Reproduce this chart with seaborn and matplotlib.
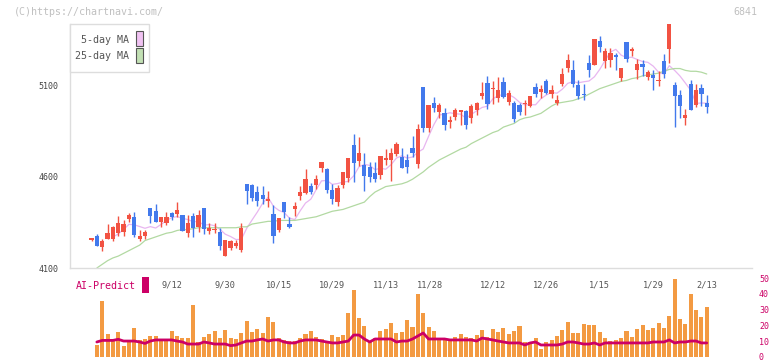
import numpy as np
import pandas as pd
import matplotlib
matplotlib.use("Agg")
import matplotlib.pyplot as plt
import seaborn as sns
from matplotlib.patches import Rectangle

# =============================
# Data
# =============================
opens = [4255, 4275, 4217, 4259, 4259, 4290, 4298, 4368, 4379, 4259,
         4277, 4428, 4411, 4351, 4344, 4401, 4395, 4390, 4290, 4384,
         4322, 4428, 4304, 4306, 4298, 4167, 4211, 4222, 4198, 4559,
         4555, 4515, 4499, 4468, 4395, 4309, 4461, 4340, 4422, 4493,
         4510, 4548, 4554, 4646, 4641, 4526, 4461, 4554, 4592, 4772,
         4685, 4663, 4652, 4619, 4608, 4690, 4690, 4723, 4707, 4690,
         4756, 4668, 5089, 4865, 5002, 4952, 4947, 4900, 4925, 4952,
         4958, 4920, 4963, 5040, 5111, 5078, 5029, 5116, 5007, 5002,
         4991, 4996, 4985, 5089, 5062, 5122, 5051, 5002, 5105, 5193,
         5182, 5100, 5051, 5220, 5209, 5340, 5231, 5237, 5260, 5138,
         5335, 5288, 5182, 5215, 5144, 5155, 5122, 5231, 5297, 5100,
         5045, 4920, 5105, 4991, 5084, 5002]
highs = [4260, 4286, 4259, 4340, 4330, 4384, 4362, 4402, 4406, 4308,
         4308, 4428, 4450, 4379, 4406, 4406, 4461, 4390, 4390, 4402,
         4417, 4428, 4346, 4344, 4319, 4255, 4255, 4253, 4348, 4559,
         4559, 4548, 4548, 4521, 4444, 4373, 4461, 4379, 4461, 4548,
         4641, 4565, 4608, 4679, 4646, 4559, 4554, 4625, 4701, 4832,
         4816, 4728, 4679, 4679, 4712, 4750, 4756, 4789, 4756, 4723,
         4821, 4887, 5089, 4991, 5034, 5002, 4974, 4931, 4974, 4963,
         4963, 4996, 5007, 5116, 5149, 5122, 5144, 5144, 5073, 5013,
         5002, 5018, 5040, 5111, 5100, 5133, 5100, 5045, 5193, 5269,
         5237, 5127, 5105, 5264, 5351, 5368, 5302, 5302, 5275, 5193,
         5335, 5308, 5242, 5237, 5182, 5182, 5177, 5269, 5433, 5116,
         5073, 4969, 5127, 5105, 5105, 5045]
lows = [4250, 4220, 4193, 4259, 4250, 4277, 4277, 4353, 4271, 4249,
        4257, 4344, 4351, 4326, 4335, 4362, 4379, 4302, 4271, 4271,
        4295, 4286, 4286, 4290, 4198, 4167, 4198, 4208, 4190, 4451,
        4468, 4439, 4450, 4435, 4235, 4298, 4375, 4320, 4386, 4472,
        4504, 4504, 4532, 4625, 4510, 4450, 4439, 4537, 4570, 4570,
        4657, 4521, 4570, 4570, 4586, 4663, 4575, 4712, 4646, 4619,
        4707, 4646, 4843, 4843, 4952, 4920, 4854, 4865, 4909, 4881,
        4860, 4892, 4936, 5023, 4969, 4996, 5007, 5029, 4991, 4898,
        4936, 4936, 4980, 5034, 5029, 5051, 5029, 4991, 5094, 5171,
        5089, 5023, 5018, 5144, 5209, 5280, 5193, 5198, 5182, 5122,
        5226, 5258, 5133, 5149, 5127, 5073, 5094, 5138, 5220, 4870,
        4920, 4881, 4963, 4980, 4985, 4947]
closes = [4258, 4220, 4249, 4293, 4324, 4346, 4340, 4390, 4280, 4277,
          4298, 4386, 4351, 4379, 4379, 4380, 4417, 4302, 4346, 4319,
          4390, 4313, 4319, 4315, 4222, 4255, 4249, 4237, 4319, 4521,
          4484, 4468, 4479, 4479, 4277, 4373, 4408, 4326, 4439, 4515,
          4586, 4515, 4586, 4679, 4526, 4479, 4537, 4625, 4701, 4674,
          4728, 4603, 4597, 4586, 4712, 4701, 4728, 4778, 4646, 4652,
          4728, 4860, 4865, 4991, 4974, 4991, 4881, 4905, 4963, 4963,
          4881, 4985, 5002, 5056, 4996, 5081, 5073, 5034, 5056, 4914,
          4952, 5002, 5040, 5051, 5078, 5056, 5073, 5018, 5160, 5237,
          5105, 5040, 5046, 5182, 5351, 5307, 5286, 5275, 5255, 5193,
          5242, 5293, 5215, 5198, 5171, 5138, 5127, 5160, 5433, 5040,
          4985, 4936, 4963, 5073, 5051, 4980]

# 25-day moving average as drawn on the chart (first candle has none)
ma25 = [np.nan,
        4100, 4120, 4140, 4155, 4165, 4180, 4195, 4210, 4225, 4250,
        4260, 4270, 4280, 4290, 4295, 4305, 4310, 4310, 4315, 4320,
        4320, 4320, 4320, 4320, 4320, 4320, 4320, 4325, 4325, 4340,
        4345, 4350, 4355, 4355, 4360, 4360, 4360, 4360, 4365, 4370,
        4375, 4380, 4390, 4400, 4410, 4415, 4420, 4430, 4440, 4450,
        4460, 4490, 4515, 4530, 4545, 4550, 4555, 4560, 4570, 4585,
        4605, 4625, 4650, 4670, 4690, 4705, 4720, 4735, 4750, 4760,
        4780, 4795, 4810, 4825, 4840, 4850, 4870, 4880, 4890, 4910,
        4920, 4925, 4935, 4945, 4965, 4985, 5000, 5005, 5010, 5015,
        5025, 5035, 5050, 5065, 5080, 5090, 5100, 5110, 5120, 5125,
        5135, 5140, 5150, 5155, 5160, 5165, 5175, 5185, 5190, 5190,
        5180, 5175, 5175, 5170, 5160]

volume = [np.nan,
          7.6, 35.4, 14.6, 11.4, 15.8, 7.0, 9.5, 18.4, 10.8, 11.4,
          13.3, 13.3, 10.8, 10.1, 16.5, 13.3, 12.0, 12.0, 32.9, 9.5,
          12.7, 14.6, 16.5, 12.0, 17.1, 12.0, 11.4, 15.2, 22.8, 15.8,
          17.7, 15.2, 25.3, 22.2, 12.0, 10.8, 10.1, 10.1, 12.0, 14.6,
          16.5, 12.7, 11.4, 10.1, 13.9, 12.7, 13.9, 27.8, 42.4, 24.7,
          19.6, 10.1, 12.0, 16.5, 17.7, 21.5, 15.2, 15.8, 23.4, 19.0,
          39.9, 27.8, 19.0, 16.5, 12.0, 12.0, 10.8, 12.7, 14.6, 12.7,
          12.0, 13.9, 17.1, 12.7, 17.7, 15.8, 18.4, 14.6, 16.5, 19.6,
          9.5, 9.5, 12.0, 5.1, 9.5, 10.8, 13.3, 17.1, 22.2, 15.2,
          15.2, 20.9, 20.3, 20.3, 15.8, 12.0, 10.1, 10.8, 12.0, 16.5,
          12.7, 17.7, 20.3, 17.1, 18.4, 21.5, 18.4, 25.9, 49.4, 24.1,
          20.9, 39.9, 29.7, 25.3, 31.6]

ai_predict = [np.nan,
              9.5, 10.5, 10.5, 10.5, 11.2, 10.1, 10.1, 10.1, 9.5, 8.6,
              10.1, 10.8, 10.8, 10.8, 10.8, 10.1, 9.5, 8.2, 8.2, 8.2,
              9.5, 8.9, 8.2, 8.2, 8.2, 7.2, 7.6, 8.9, 10.1, 10.1,
              10.8, 11.4, 10.1, 10.8, 10.8, 9.5, 8.9, 8.9, 10.1, 10.8,
              10.8, 10.8, 10.1, 9.5, 8.9, 8.9, 9.5, 10.1, 13.9, 13.9,
              11.4, 9.5, 11.4, 11.4, 11.4, 11.4, 9.5, 10.1, 10.1, 11.4,
              13.3, 15.2, 11.4, 11.4, 11.4, 11.4, 10.8, 10.8, 10.8, 10.8,
              10.8, 10.1, 12.0, 11.4, 10.8, 10.1, 9.5, 8.9, 8.9, 8.9,
              7.6, 8.9, 9.5, 7.6, 7.6, 7.6, 7.6, 8.2, 9.5, 9.5,
              8.9, 8.2, 8.2, 8.9, 7.6, 8.9, 8.9, 8.9, 8.9, 8.9,
              8.9, 8.9, 8.9, 8.9, 9.5, 9.5, 9.5, 10.8, 8.9, 9.5,
              9.5, 10.1, 10.1, 8.9, 8.9]

date_labels = ["9/12", "9/30", "10/15", "10/29", "11/13", "11/28",
               "12/12", "12/26", "1/15", "1/29", "2/13"]
date_pos = [15, 25, 35, 45, 55, 63.3, 75, 85, 95, 105, 115]

df = pd.DataFrame({"open": opens, "high": highs, "low": lows, "close": closes,
                   "ma25": ma25, "volume": volume, "ai": ai_predict})
df["idx"] = np.arange(len(df))
df["ma5"] = df["close"].rolling(5).mean()

# =============================
# Figure layout (pixel based)
# =============================
W, H = 772, 361
RED, BLUE = "#f25242", "#4279ec"
MAGENTA = "#cc0066"
GRID = "#dddddd"


def rect(x0, y0, x1, y1):
    return [x0 / W, 1 - y1 / H, (x1 - x0) / W, (y1 - y0) / H]


sns.set_style("white")
plt.rcParams["font.family"] = ["DejaVu Sans Mono"]

fig = plt.figure(figsize=(W / 100, H / 100), dpi=100)
ppx = 1000 / 183.0          # price per pixel
xmin, xmax = (70 - 91.5) / 5.35, (752 - 91.5) / 5.35

# ---- volume panel (transparent, so the date labels stay visible)
axv = fig.add_axes(rect(70, 278, 752, 357))
axv.set_facecolor("none")
axv.set_xlim(xmin, xmax)
axv.set_ylim(0, 50)
axv.bar(df["idx"], df["volume"], width=0.75, color="#f39a42", linewidth=0)
sns.lineplot(data=df, x="idx", y="ai", ax=axv, color=MAGENTA, lw=2.0)
axv.set_xlabel("")
axv.set_ylabel("")
axv.set_xticks([])
axv.yaxis.tick_right()
axv.set_yticks(range(0, 51, 10))
axv.tick_params(axis="y", length=0, pad=5, labelsize=6, labelcolor=MAGENTA)
for s in axv.spines.values():
    s.set_visible(False)

# ---- price panel
ax = fig.add_axes(rect(70, 24, 752, 268))
ax.set_facecolor("none")
ax.set_zorder(2)
ax.set_xlim(xmin, xmax)
ax.set_ylim(4100, 5100 + 61 * ppx)

up = df["close"] >= df["open"]
cols = np.where(up, RED, BLUE)
ax.vlines(df["idx"], df["low"], df["high"], colors=cols, lw=1.0, zorder=3)
body_lo = np.minimum(df["open"], df["close"])
body_h = np.maximum((df["close"] - df["open"]).abs(), ppx * 1.2)
ax.bar(df["idx"], body_h, bottom=body_lo, width=0.8, color=cols,
       linewidth=0, zorder=4)

sns.lineplot(data=df, x="idx", y="ma5", ax=ax, color="#e8b6f0", lw=0.9, zorder=2)
sns.lineplot(data=df, x="idx", y="ma25", ax=ax, color="#b2d9a2", lw=0.9, zorder=2)

ax.set_xlabel("")
ax.set_ylabel("")
for s in ["top", "right"]:
    ax.spines[s].set_visible(False)
for s in ["left", "bottom"]:
    ax.spines[s].set_color(GRID)
    ax.spines[s].set_linewidth(1.0)

ax.set_yticks([4100, 4600, 5100])
ax.tick_params(axis="y", direction="inout", length=6, width=1, color=GRID,
               labelsize=6, labelcolor="#444444", pad=5)
ax.set_xticks(date_pos)
ax.set_xticklabels(date_labels)
ax.set_xticks(np.linspace(xmin, xmax, 12), minor=True)
ax.tick_params(axis="x", which="major", length=0, pad=9, labelsize=6.2,
               labelcolor="#555555")
ax.tick_params(axis="x", which="minor", direction="inout", length=6, width=1,
               color=GRID)

# ---- texts and legend box
fig.text(14 / W, 1 - 12 / H, "(C)https://chartnavi.com/", fontsize=7.2,
         color="#c0c0c0", va="center", ha="left")
fig.text(757 / W, 1 - 12 / H, "6841", fontsize=7.2, color="#c0c0c0",
         va="center", ha="right")

fig.add_artist(Rectangle((70 / W, 1 - 72 / H), 79 / W, 48 / H,
                         transform=fig.transFigure, fc="white", ec=GRID,
                         lw=1, zorder=5))
fig.text(129 / W, 1 - 40 / H, "5-day MA", fontsize=7.2, color="#555555",
         ha="right", va="center", zorder=6)
fig.text(129 / W, 1 - 56 / H, "25-day MA", fontsize=7.2, color="#555555",
         ha="right", va="center", zorder=6)
fig.add_artist(Rectangle((136 / W, 1 - 46 / H), 7 / W, 15 / H,
                         transform=fig.transFigure, fc="#f0c2f2", ec="#555555",
                         lw=0.8, zorder=6))
fig.add_artist(Rectangle((136 / W, 1 - 63 / H), 7 / W, 15 / H,
                         transform=fig.transFigure, fc="#c2e0b4", ec="#555555",
                         lw=0.8, zorder=6))

fig.text(76 / W, 1 - 286 / H, "AI-Predict", fontsize=7.2, color=MAGENTA,
         ha="left", va="center")
fig.add_artist(Rectangle((142 / W, 1 - 293 / H), 7 / W, 16 / H,
                         transform=fig.transFigure, fc=MAGENTA, ec="none"))

fig.savefig("out.png", dpi=100)
